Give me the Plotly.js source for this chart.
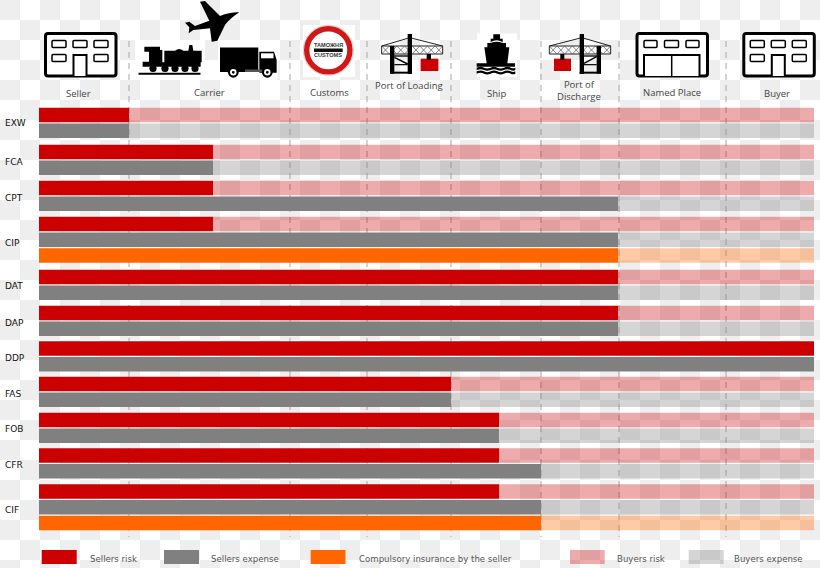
<!DOCTYPE html>
<html><head><meta charset="utf-8">
<script src="https://cdn.plot.ly/plotly-3.0.1.min.js"></script>
<style>
html,body{margin:0;padding:0;width:820px;height:568px;overflow:hidden;
background:conic-gradient(#fff 25%,#eeeeee 0 50%,#fff 0 75%,#eeeeee 0);background-size:40px 40px;}
#c{width:820px;height:568px;}
</style></head><body><div id="c"></div>
<script>
// ---- data (x = length along the transport chain, 0..775) ----
const terms = ['EXW','FCA','CPT','CIP','DAT','DAP','DDP','FAS','FOB','CFR','CIF'];
const sellersRisk    = [90,174,174,174,579,579,775,412,460,460,460];
const sellersExpense = [90,174,579,579,579,579,775,412,460,502,502];
const insurance      = [null,null,null,579,null,null,null,null,null,null,502];
const chainEnd = 775;
const stageEnds = [90,251,328,412,502,580,687];
const stageNames = ['Seller','Carrier','Customs','Port of Loading','Ship','Port of<br>Discharge','Named Place','Buyer'];
const stageLabelX = [78.5,209,329,408.5,496,579,672,777];
const stageLabelY = [93,92.5,92.5,85.5,93,90.7,92.5,93.5];
const legendNames = ['Sellers risk','Sellers expense','Compulsory insurance by the seller','Buyers risk','Buyers expense'];

const RED='#cc0000', GREY='#808080', ORANGE='#ff6600';
const LRED='rgba(204,0,0,0.33)', LGREY='rgba(128,128,128,0.33)', LORANGE='rgba(255,102,0,0.35)';

// ---- row placement ----
const groupStart=[115,152,188,224,277,313,348.5,384,420,455.5,491.5];
const termLabelY=[123,162,198,243,286,323,358,394,429,465,510];
const rowPitch=15.7, barH=14.5;
const rowR=groupStart.slice(), rowE=groupStart.map(v=>v+rowPitch);
const rowI=groupStart.map((v,i)=>insurance[i]===null?null:v+2*rowPitch);
const idx3=terms.map((t,i)=>i).filter(i=>insurance[i]!==null);
function bar(name,y,x,base,color){
  return {type:'bar',orientation:'h',name,y,x,base,width:barH,marker:{color,line:{width:0}},showlegend:false,hoverinfo:'skip'};
}
const traces=[
  bar('Buyers risk',rowR,sellersRisk.map(v=>chainEnd-v),sellersRisk,LRED),
  bar('Buyers expense',rowE,sellersExpense.map(v=>chainEnd-v),sellersExpense,LGREY),
  bar('Buyers insurance',idx3.map(i=>rowI[i]),idx3.map(i=>chainEnd-insurance[i]),idx3.map(i=>insurance[i]),LORANGE),
  bar('Sellers risk',rowR,sellersRisk,0,RED),
  bar('Sellers expense',rowE,sellersExpense,0,GREY),
  bar('Compulsory insurance',idx3.map(i=>rowI[i]),idx3.map(i=>insurance[i]),0,ORANGE)
];

// ---- decoration helpers: px coords on overlay axes x2 / y ----
const shapes=[];
function add(o){shapes.push(Object.assign({xref:'x2',yref:'y',layer:'above',line:{width:0}},o));}
function rect(x0,y0,x1,y1,fill,lw,lc){add({type:'rect',x0,y0,x1,y1,fillcolor:fill||'rgba(0,0,0,0)',line:{width:lw||0,color:lc||'#000'}});}
function circ(cx,cy,r,fill,lw,lc){add({type:'circle',x0:cx-r,x1:cx+r,y0:cy-r,y1:cy+r,fillcolor:fill||'rgba(0,0,0,0)',line:{width:lw||0,color:lc||'#000'}});}
function tr(ox,oy,s,d){return d.replace(/(-?[\d.]+)[ ,](-?[\d.]+)/g,(m,a,b)=>(ox+a*s).toFixed(2)+','+(oy+b*s).toFixed(2));}
function path(ox,oy,s,d,fill,lw,lc){add({type:'path',path:tr(ox,oy,s,d),fillcolor:fill||'rgba(0,0,0,0)',line:{width:lw||0,color:lc||'#000'}});}
function rr(x0,y0,x1,y1,r){return `M${x0+r},${y0} L${x1-r},${y0} Q${x1},${y0} ${x1},${y0+r} L${x1},${y1-r} Q${x1},${y1} ${x1-r},${y1} L${x0+r},${y1} Q${x0},${y1} ${x0},${y1-r} L${x0},${y0+r} Q${x0},${y0} ${x0+r},${y0} Z`;}

function building(dx){
  path(dx,0,1,rr(45.5,33.5,116,76,2.5),'#fff',3);
  [[52,66],[73,87],[94,108]].forEach(w=>path(dx,0,1,rr(w[0],40.5,w[1],47.5,1),'#fff',1.5));
  [[52,66],[94,108]].forEach(w=>path(dx,0,1,rr(w[0],54.5,w[1],61.5,1),'#fff',1.5));
  path(dx,0,1,'M73.5,76 L73.5,55 L86.5,55 L86.5,76','#fff',2);
}
building(0); building(698.3);
// named place
path(0,0,1,rr(637,33.5,707.5,76,2.5),'#fff',3);
[[644,657],[664.5,678.5],[686,699]].forEach(w=>path(0,0,1,rr(w[0],40.5,w[1],47.5,1),'#fff',1.5));
path(0,0,1,'M644,76 L644,55 L699.5,55 L699.5,76','#fff',2);
path(0,0,1,'M671.7,55 L671.7,76','',1.5);

// plane
path(130,0,1/3,'M328,37 Q300,36 270,48 L225,3 L210,5 L238,62 L195,78 L178,65 L165,68 L178,82 L176,100 L190,90 L240,85 L245,125 L262,122 L285,75 Q300,55 328,37 Z','#000');
// train
rect(135,40,205,80,'#fff');
path(130,0,1/3,'M43,140 L90,140 L90,150 L97,150 L97,187 L103,187 L103,152 L135,152 Q148,142 160,152 L175,152 L178,135 L187,135 L190,152 L215,152 L215,187 L212,187 L212,200 L38,200 L38,185 L57,185 L57,155 L43,155 Z','#000');
[153,165,175,185,195].forEach(x=>circ(x,68.5,3.6,'#000'));
rect(138.5,72.7,200.5,74.7,'#000');
// truck
rect(218,40,277.5,80,'#fff');
rect(220,47.5,258.3,72,'#000');
path(130,0,1/3,'M388,155 L432,155 L440,180 L440,218 L388,218 Z','#000');
rect(261,53.3,273.5,58.3,'#fff');
rect(245,69.5,262,72,'#555');
[233.3,267.3].forEach(x=>{circ(x,72.3,5.4,'#000');circ(x,72.3,3.2,'#fff');circ(x,72.3,1.4,'#000');});
// customs
rect(303,25,355,77,'#fff');
circ(328.3,50.3,25,'#fff',0.6,'#e79a9a');
circ(328.3,50.3,21.6,'#fff',5.4,'#d01818');
rect(314,48.5,342.7,52,'#111');
// cranes
function drawCrane(ox,oy,t0,t1,mast,leg,red,hook){
  const o=1/3;
  path(ox,oy,o,`M${t0},72 L${t1},72 L${t1},96 L${t0},96 Z`,'rgba(255,255,255,0.7)',1,'#222');
  let zz=`M${t0},96`; const n=8,st=(t1-t0)/n;
  for(let i=1;i<=n;i++) zz+=` L${t0+i*st},${i%2?72:96}`;
  let zy=`M${t0},72`; for(let i=1;i<=n;i++) zy+=` L${t0+i*st},${i%2?96:72}`;
  path(ox,oy,o,zz,'',0.7,'#555'); path(ox,oy,o,zy,'',0.7,'#555');
  const m=(mast[0]+mast[1])/2;
  path(ox,oy,o,`M${t0},72 L${m},47 L${t1},72`,'',1,'#222');
  rect(ox+leg[0]*o,oy+72*o,ox+leg[1]*o,oy+155*o,'#000');
  rect(ox+mast[0]*o,oy+36*o,ox+mast[1]*o,oy+156*o,'#000');
  const a=Math.min(leg[0],mast[0]),b=Math.max(leg[1],mast[1]);
  rect(ox+a*o,oy+100*o,ox+b*o,oy+104*o,'#000');
  rect(ox+a*o,oy+149*o,ox+b*o,oy+155*o,'#000');
  path(ox,oy,o,mast[0]>leg[0]?`M${leg[1]},106 L${mast[0]},126`:`M${mast[1]},124 L${leg[0]},104`,'',1.4,'#000');
  path(ox,oy,o,`M${leg[0]<mast[0]?leg[1]:mast[1]},128 L${leg[0]<mast[0]?mast[0]:leg[0]},128`,'',1.2,'#000');
  rect(ox+red[0]*o,oy+110*o,ox+red[1]*o,oy+147*o,RED);
  rect(ox+hook[0]*o,oy+96*o,ox+hook[1]*o,oy+113*o,'#000');
}
drawCrane(300,22,245,428,[323,336],[270,283],[362,415],[380,393]);
drawCrane(470,22,238,422,[329,342],[380,393],[252,303],[271,283]);
// ship
rect(477,33.5,517,77,'#fff');
path(470,22,1/3,'M70,37 L90,37 L90,50 L98,50 L98,63 L108,63 L108,76 L118,76 L112,124 L135,124 L135,134 L20,134 L20,124 L50,124 L43,76 L52,76 L52,63 L62,63 L62,50 L70,50 Z','#000');
path(470,22,1/3,'M62,60 Q80,50 98,60 L98,63 Q80,55 62,63 Z','#fff');
[137,148].forEach(y=>path(470,22,1/3,`M20,${y} Q32,${y-5} 42,${y} Q52,${y+5} 62,${y} Q72,${y-5} 82,${y} Q92,${y+5} 102,${y} Q112,${y-5} 122,${y} Q130,${y+4} 136,${y} L136,${y+7} Q130,${y+11} 122,${y+7} Q112,${y+2} 102,${y+7} Q92,${y+12} 82,${y+7} Q72,${y+2} 62,${y+7} Q52,${y+12} 42,${y+7} Q32,${y+2} 20,${y+7} Z`,'#000'));

// dashed stage lines, behind the bars
stageEnds.forEach(v=>shapes.push({type:'line',xref:'x',yref:'y',x0:v,x1:v,y0:41,y1:537,layer:'below',line:{color:'#a6a6a6',width:1,dash:'6px,5px'}}));

// legend swatches
const swatchX=[[41.7,76.7],[164,199],[310.7,345.5],[570,604.7],[688.7,723.7]];
const swatchC=[RED,GREY,ORANGE,LRED,LGREY];
const legendTextX=[88.5,209.7,357.5,615.7,732.5];
swatchX.forEach((s,i)=>rect(s[0],550,s[1],564,swatchC[i]));

// ---- text ----
const ann=[];
function txt(x,y,text,font,anchor){ann.push({xref:'x2',yref:'y',x,y,text,showarrow:false,xanchor:anchor||'center',yanchor:'middle',align:'center',font,borderpad:0});}
const labelFont={family:'Open Sans, sans-serif',size:9.5,color:'#444'};
stageNames.forEach((n,i)=>txt(stageLabelX[i],stageLabelY[i],n,labelFont));
terms.forEach((t,i)=>txt(3.5,termLabelY[i],t,{family:'DejaVu Sans, sans-serif',size:9,color:'#111'},'left'));
legendNames.forEach((n,i)=>txt(legendTextX[i],558.5,n,{family:'DejaVu Sans, sans-serif',size:8.6,color:'#555'},'left'));
txt(328.3,44.6,'<b>ТАМОЖНЯ</b>',{family:'Liberation Sans, sans-serif',size:5.6,color:'#333'});
txt(328.3,55.4,'<b>CUSTOMS</b>',{family:'Liberation Sans, sans-serif',size:5.6,color:'#333'});

Plotly.newPlot('c',traces,{
  width:820,height:568,margin:{l:0,r:0,t:0,b:0,pad:0},
  paper_bgcolor:'rgba(0,0,0,0)',plot_bgcolor:'rgba(0,0,0,0)',
  barmode:'overlay',showlegend:false,
  xaxis:{range:[-39,781],visible:false,fixedrange:true},
  xaxis2:{range:[0,820],visible:false,overlaying:'x',fixedrange:true},
  yaxis:{range:[568,0],visible:false,fixedrange:true},
  shapes,annotations:ann
},{displayModeBar:false,staticPlot:true});
</script></body></html>
